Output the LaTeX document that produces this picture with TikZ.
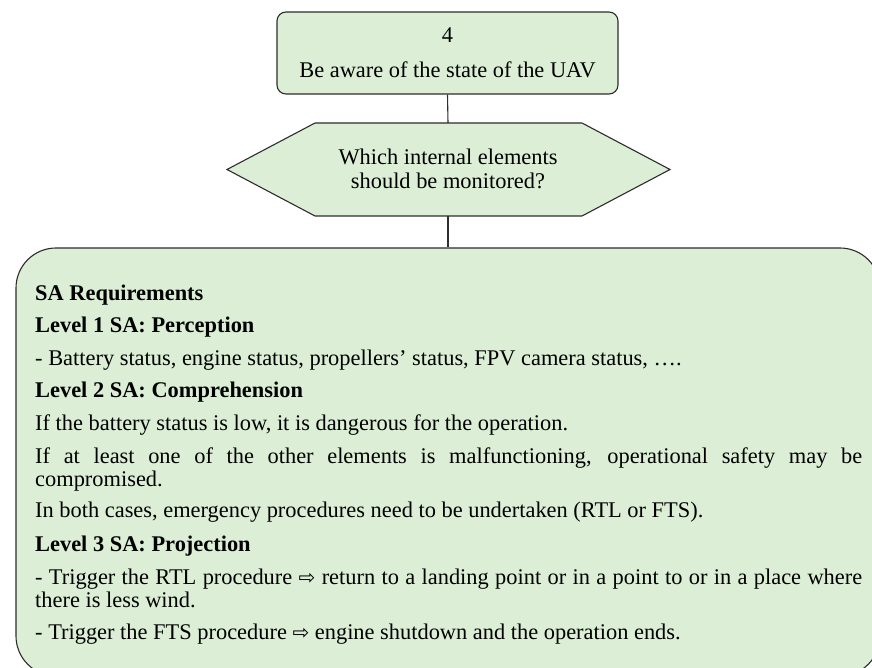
\documentclass[tikz,border=0pt]{standalone}
\usepackage{fontspec}
\setmainfont{Liberation Serif}
\newfontfamily\symfont{DejaVu Sans}
\definecolor{boxfill}{RGB}{220,238,214}
\definecolor{edgecol}{RGB}{45,45,45}
\tikzset{
  shapeline/.style={draw=edgecol, line width=1.1pt, fill=boxfill},
  conn/.style={draw=edgecol, line width=1.1pt},
  txt/.style={anchor=base west, inner sep=0pt, font=\fontsize{22.4}{24}\selectfont},
  btxt/.style={txt, font=\fontsize{22.4}{24}\selectfont\bfseries},
}
\newcommand{\rarr}{{\symfont\fontsize{20}{20}\selectfont ⇨}}
\begin{document}
\begin{tikzpicture}[x=1pt,y=-1pt]
\clip (0,0) rectangle (872,668);
\useasboundingbox (0,0) rectangle (872,668);
\fill[white] (0,0) rectangle (872,668);
% top box
\node[shapeline, rounded corners=9pt, minimum width=341pt, minimum height=82pt, inner sep=0pt] (goal) at (447.5,53) {};
\node[anchor=base, inner sep=0pt, font=\fontsize{22.4}{24}\selectfont] (goalnum) at (447.5,43) {4};
\node[anchor=base, inner sep=0pt, font=\fontsize{22.4}{24}\selectfont] (goaltxt) at (447.5,78) {Be aware of the state of the UAV};
% hexagon
\coordinate (qtop) at (448,123);
\coordinate (qbot) at (448,216);
\draw[shapeline] (227,169.5) -- (315,123) -- (582,123) -- (670,169.5) -- (582,216) -- (315,216) -- cycle;
\node[anchor=base, inner sep=0pt, font=\fontsize{22.4}{24}\selectfont] (q1) at (448,165) {Which internal elements};
\node[anchor=base, inner sep=0pt, font=\fontsize{22.4}{24}\selectfont] (q2) at (448,188.5) {should be monitored?};
% big box
\node[shapeline, rounded corners=40pt, minimum width=864pt, minimum height=428pt, inner sep=0pt] (sa) at (448,462) {};
% connectors
\draw[conn] (goal.south) -- (qtop);
\draw[conn] (qbot) -- (sa.north);
% text
\node[btxt] (t1) at (35,300) {SA Requirements};
\node[btxt] (t2) at (35,332.5) {Level 1 SA: Perception};
\node[txt] (t3) at (35,365) {- Battery status, engine status, propellers’ status, FPV camera status, ….};
\node[btxt] (t4) at (35,397.5) {Level 2 SA: Comprehension};
\node[txt] (t5) at (35,430) {If the battery status is low, it is dangerous for the operation.};
\node[txt] (t6) at (35,463) {\makebox[827pt][s]{If at least one of the other elements is malfunctioning, operational safety may be}};
\node[txt] (t7) at (35,486) {compromised.};
\node[txt] (t8) at (35,517) {In both cases, emergency procedures need to be undertaken (RTL or FTS).};
\node[btxt] (t9) at (35,551) {Level 3 SA: Projection};
\node[txt] (t10) at (35,584) {\makebox[827pt][s]{- Trigger the RTL procedure \rarr{} return to a landing point or in a point to or in a place where}};
\node[txt] (t11) at (35,607.5) {there is less wind.};
\node[txt] (t12) at (35,639) {- Trigger the FTS procedure \rarr{} engine shutdown and the operation ends.};
\end{tikzpicture}
\end{document}
